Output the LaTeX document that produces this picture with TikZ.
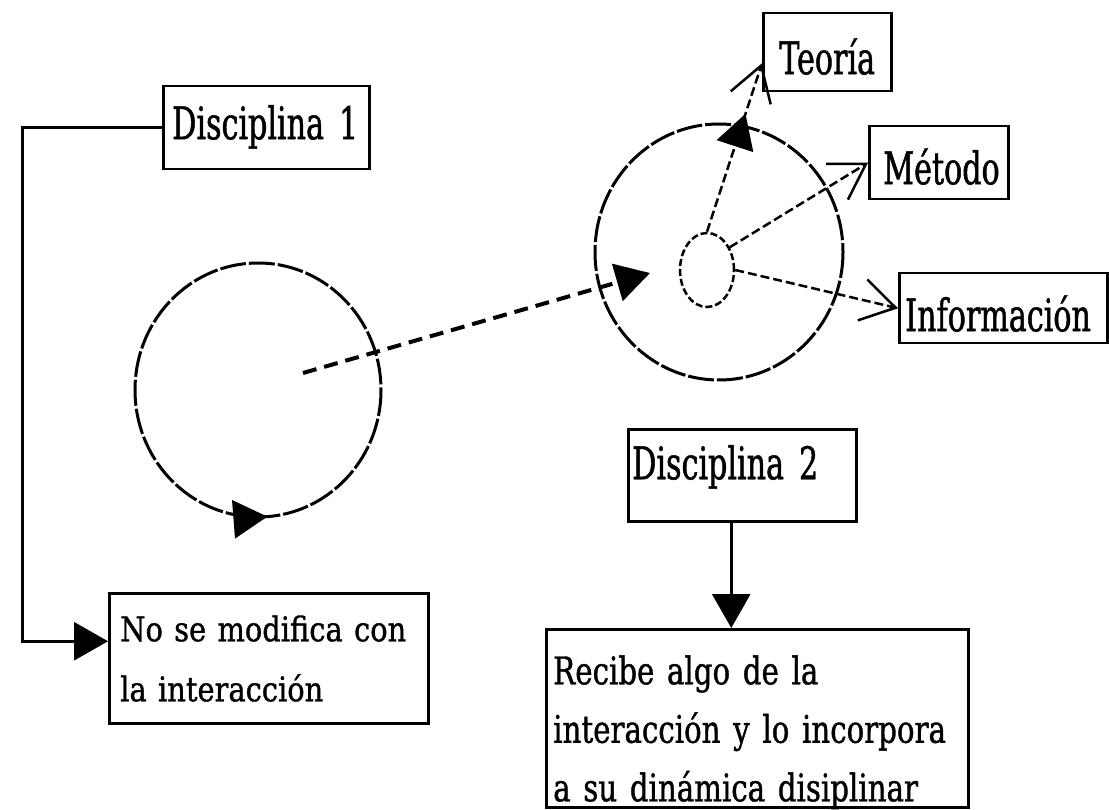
\documentclass[tikz,border=0pt]{standalone}
\usepackage{fontspec}
\setmainfont{DejaVu Serif}
\newfontfamily\labfont{DejaVu Serif}[FakeStretch=0.67,FakeBold=1]
\newfontfamily\nofont{DejaVu Serif}[FakeStretch=0.85,FakeBold=1]
\newfontfamily\recfont{DejaVu Serif}[FakeStretch=0.77,FakeBold=1]
\usetikzlibrary{arrows.meta,shapes.geometric,decorations.markings}
\tikzset{
  bigtri/.tip={Triangle[length=34pt,width=38pt]},
  barb/.tip={Straight Barb[length=34pt,width=42pt]},
  bx/.style={draw, line width=2.5pt, inner sep=0pt, anchor=north west, align=left},
  lab/.style={font=\labfont\fontsize{45}{54}\selectfont, text depth=0pt},
  ring/.style={line width=3pt, dash pattern=on 26pt off 3pt},
  smallring/.style={line width=2.5pt, dash pattern=on 7pt off 3pt},
  maindash/.style={line width=4pt, dash pattern=on 14pt off 8pt},
  radial/.style={line width=2.5pt, dash pattern=on 9pt off 4pt},
  solidln/.style={line width=3pt},
}
\begin{document}
\begin{tikzpicture}[x=1pt,y=-1pt]
\useasboundingbox (0,0) rectangle (1109,810);

% circles
\draw[ring, postaction={decorate}, decoration={markings,
  mark=at position 0.238 with {\arrowreversed{bigtri}}}]
  (258,390) ellipse [x radius=123, y radius=127];
\draw[ring] (719,252) ellipse [x radius=124, y radius=128];
\node[draw, ellipse, smallring, minimum width=54pt, minimum height=74pt, inner sep=0pt] (sc) at (707,270) {};

% boxes
\node[bx, lab, minimum width=206pt, minimum height=83pt, inner xsep=9pt, text width=188pt, text height=23pt] (d1) at (162,85) {\mbox{Disciplina 1}};
\node[bx, lab, minimum width=128pt, minimum height=78pt, inner xsep=16pt, text width=96pt, text height=44pt] (teo) at (762,12) {\mbox{Teoría}};
\node[bx, lab, minimum width=139pt, minimum height=73pt, inner xsep=14pt, text width=111pt, text height=43pt] (mt) at (868,125) {\mbox{Método}};
\node[bx, lab, minimum width=208pt, minimum height=70pt, inner xsep=6pt, text width=196pt, text height=46pt] (inf) at (898,272) {\mbox{Información}};
\node[bx, lab, minimum width=228pt, minimum height=92pt, inner xsep=4pt, text width=220pt, text height=8pt] (d2) at (627,428) {\mbox{Disciplina 2}};
\node[bx, font=\nofont\fontsize{34}{60}\selectfont, minimum width=319pt, minimum height=130pt, inner xsep=11pt, text width=297pt, text height=36pt, text depth=70pt] (nm) at (108,592) {\mbox{No se modifica con}\\\mbox{la interacción}};
\node[bx, font=\recfont\fontsize{38}{58.5}\selectfont, minimum width=422pt, minimum height=178pt, inner xsep=7pt, text width=408pt, text height=52pt, text depth=120pt] (rc) at (545,628) {\mbox{Recibe algo de la}\\\mbox{interacción y lo incorpora}\\\mbox{a su dinámica disiplinar}};

% connectors
\coordinate (ds) at (303,373);
\coordinate (de) at (650,273);
\draw[maindash, -{bigtri}] (ds) -- (de);

\draw[radial, -{barb}, postaction={decorate}, decoration={markings,
  mark=at position 0.70 with {\arrow{bigtri}}}]
  (sc.north) -- ([yshift=-11pt]teo.west);
\draw[radial, -{barb}] (sc.45) -- (mt.west);
\draw[radial, -{barb}] (sc.east) -- (inf.west);

\draw[solidln, -{bigtri}] (d1.west) -- ++(-140,0) |- ([yshift=17pt]nm.west);
\draw[solidln, -{bigtri}] ([xshift=-11pt]d2.south) -- ([xshift=-11pt]d2.south |- rc.north);
\end{tikzpicture}
\end{document}
